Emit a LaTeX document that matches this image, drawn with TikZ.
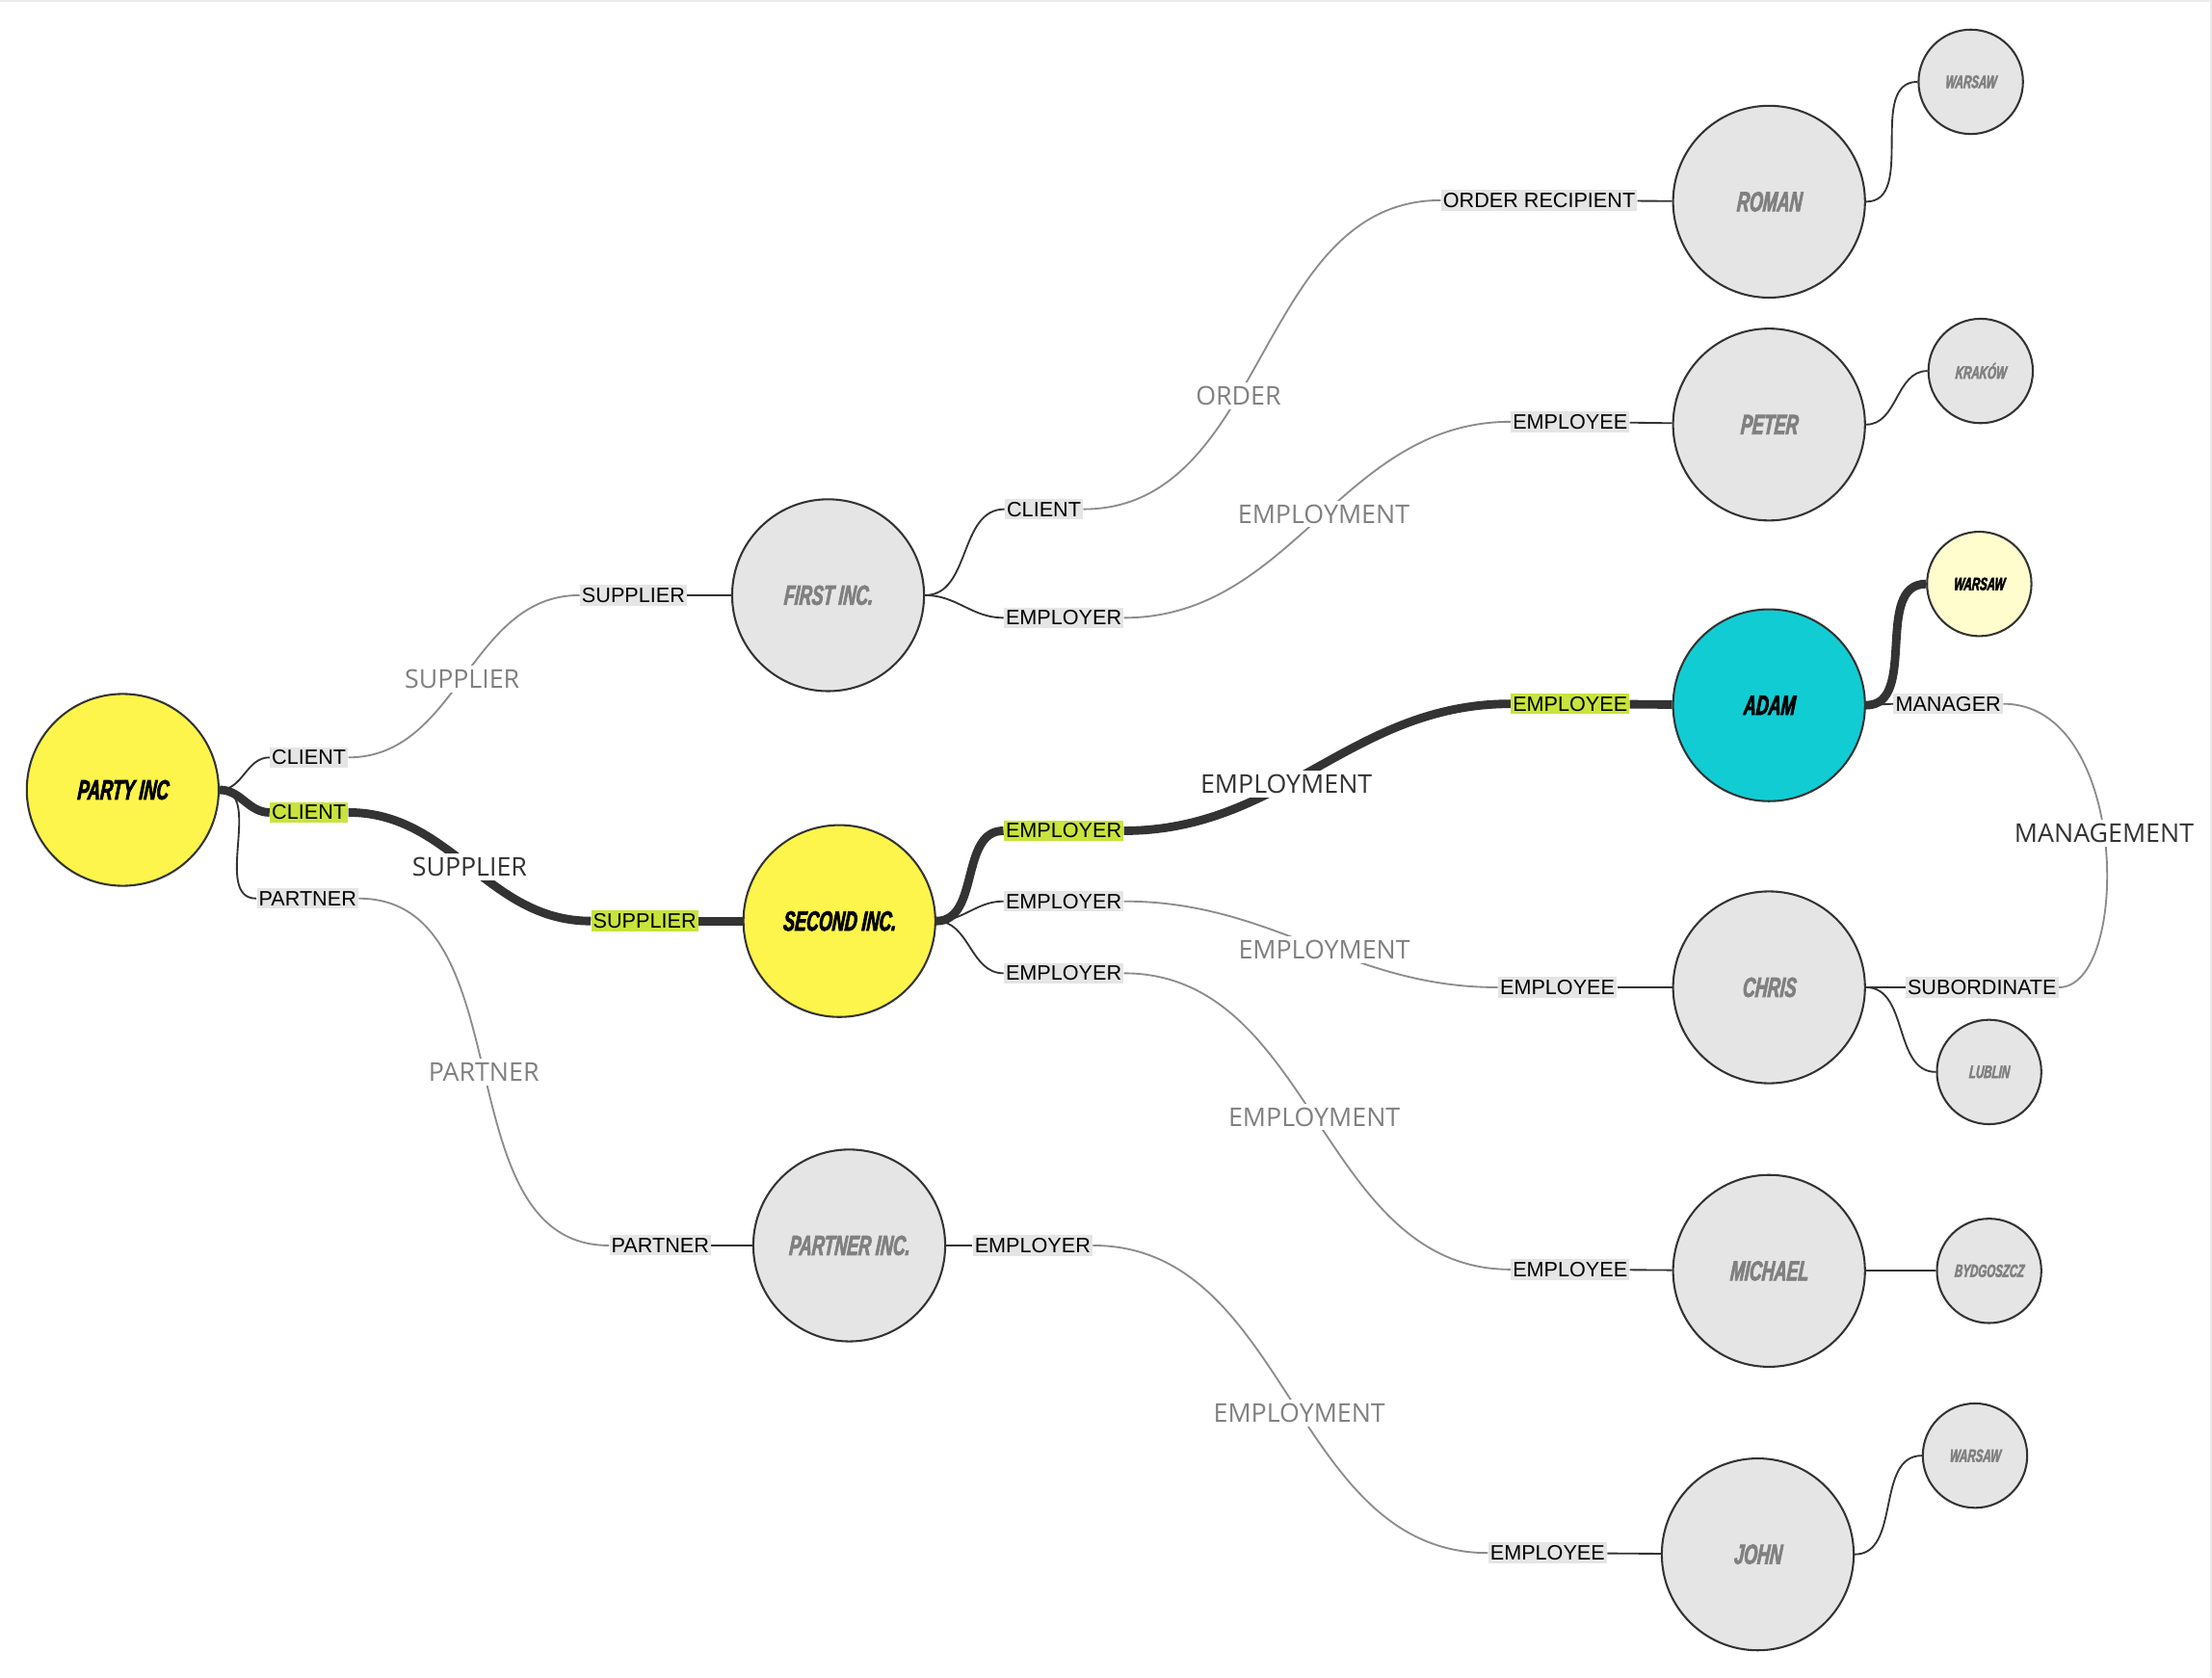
\documentclass[tikz,border=0pt]{standalone}
\usepackage{fontspec}
\setmainfont{Liberation Sans}
\newfontfamily\nombre[FakeStretch=0.62, FakeBold=2.5, FakeSlant=0.08]{Liberation Sans}
\newfontfamily\medio{Open Sans}
\usepackage{tikz}
\usetikzlibrary{shapes, positioning}
\definecolor{amarillo}{RGB}{253,245,75}
\definecolor{turquesa}{RGB}{18,204,212}
\definecolor{crema}{RGB}{255,252,206}
\definecolor{verde}{RGB}{200,228,60}
\definecolor{oscuro}{RGB}{51,51,51}
\tikzstyle{entidad} = [circle, draw=oscuro, line width=1pt, fill=gray!20, minimum size=3.4cm, inner sep=0pt, text=gray, font={\nombre\bfseries\itshape\fontsize{14}{14}\selectfont}]
\tikzstyle{ciudad} = [entidad, minimum size=1.85cm, font={\nombre\bfseries\itshape\fontsize{9}{9}\selectfont}]
\tikzstyle{etiqueta} = [fill=gray!20, text=black, inner xsep=1pt, inner ysep=1.5pt, font={\fontsize{10.5}{11}\selectfont}]
\tikzstyle{medio} = [fill=white, text=gray, inner sep=2pt, font={\medio\fontsize{13}{13}\selectfont}]
\tikzstyle{rama} = [draw=oscuro, line width=0.9pt]
\tikzstyle{enlace} = [draw=black!45, line width=0.9pt]
\tikzstyle{gruesa} = [draw=oscuro, line width=4.3pt]
\tikzstyle{curva} = [out=0, in=180]

\begin{document}
\begin{tikzpicture}[x=0.025cm, y=-0.025cm]
	\useasboundingbox (0,0) rectangle (1568,1189);
	\draw[gray!15, line width=1pt] (0,0.5) -- (1567.5,0.5) -- (1567.5,1189);

	% empresas
	\node[entidad, fill=amarillo, text=black] (party) at (87,560) {PARTY INC};
	\node[entidad] (first) at (587,422) {FIRST INC.};
	\node[entidad, fill=amarillo, text=black] (second) at (595,653) {SECOND INC.};
	\node[entidad] (partner) at (602,883) {PARTNER INC.};
	% personas
	\node[entidad] (roman) at (1254,143) {ROMAN};
	\node[entidad] (peter) at (1254,301) {PETER};
	\node[entidad, fill=turquesa, text=black] (adam) at (1254,500) {ADAM};
	\node[entidad] (chris) at (1254,700) {CHRIS};
	\node[entidad] (michael) at (1254,901) {MICHAEL};
	\node[entidad] (john) at (1246,1102) {JOHN};
	% ciudades
	\node[ciudad] (warsawA) at (1397,58) {WARSAW};
	\node[ciudad] (krakow) at (1404,263) {KRAKÓW};
	\node[ciudad, fill=crema, text=black] (warsawB) at (1403,414) {WARSAW};
	\node[ciudad] (lublin) at (1410,760) {LUBLIN};
	\node[ciudad] (bydgoszcz) at (1410,901) {BYDGOSZCZ};
	\node[ciudad] (warsawC) at (1400,1032) {WARSAW};

	% roles
	\node[etiqueta] (cl1) at (219,537) {CLIENT};
	\node[etiqueta, fill=verde] (cl2) at (219,576) {CLIENT};
	\node[etiqueta] (pa1) at (218,637) {PARTNER};
	\node[etiqueta] (su1) at (449,422) {SUPPLIER};
	\node[etiqueta, fill=verde] (su2) at (457,653) {SUPPLIER};
	\node[etiqueta] (pa2) at (468,883) {PARTNER};
	\node[etiqueta] (cl3) at (740,361) {CLIENT};
	\node[etiqueta] (er1) at (754,438) {EMPLOYER};
	\node[etiqueta, fill=verde] (er2) at (754,589) {EMPLOYER};
	\node[etiqueta] (er3) at (754,639) {EMPLOYER};
	\node[etiqueta] (er4) at (754,690) {EMPLOYER};
	\node[etiqueta] (er5) at (732,883) {EMPLOYER};
	\node[etiqueta] (orr) at (1091,142) {ORDER RECIPIENT};
	\node[etiqueta] (ee1) at (1113,299) {EMPLOYEE};
	\node[etiqueta, fill=verde] (ee2) at (1113,499) {EMPLOYEE};
	\node[etiqueta] (ee3) at (1104,700) {EMPLOYEE};
	\node[etiqueta] (ee4) at (1113,900) {EMPLOYEE};
	\node[etiqueta] (ee5) at (1097,1101) {EMPLOYEE};
	\node[etiqueta] (man) at (1381,499) {MANAGER};
	\node[etiqueta] (sub) at (1405,700) {SUBORDINATE};

	% relaciones
	\draw[rama] (party.east) to[curva] (cl1.west);
	\draw[rama] (party.east) to[curva] (pa1.west);
	\draw[enlace] (cl1.east) to[curva] node[medio, pos=0.49] {SUPPLIER} (su1.west);
	\draw[rama] (su1) -- (first);
	\draw[enlace] (pa1.east) to[curva] node[medio, pos=0.5] {PARTNER} (pa2.west);
	\draw[rama] (pa2) -- (partner);
	\draw[gruesa] (party.east) to[curva] (cl2.west);
	\draw[gruesa] (cl2.east) to[curva] node[medio, pos=0.5, text=oscuro] {SUPPLIER} (su2.west);
	\draw[gruesa] (su2) -- (second);

	\draw[rama] (first.east) to[curva] (cl3.west);
	\draw[rama] (first.east) to[curva] (er1.west);
	\draw[enlace] (cl3.east) to[curva] node[medio, pos=0.41] {ORDER} (orr.west);
	\draw[enlace] (er1.east) to[curva] node[medio, pos=0.52] {EMPLOYMENT} (ee1.west);
	\draw[rama] (orr) -- (roman);
	\draw[rama] (ee1) -- (peter);

	\draw[rama] (second.east) to[curva] (er3.west);
	\draw[rama] (second.east) to[curva] (er4.west);
	\draw[enlace] (er3.east) to[curva] node[medio, pos=0.54] {EMPLOYMENT} (ee3.west);
	\draw[enlace] (er4.east) to[curva] node[medio, pos=0.49] {EMPLOYMENT} (ee4.west);
	\draw[rama] (ee3) -- (chris);
	\draw[rama] (ee4) -- (michael);
	\draw[gruesa] (second.east) to[curva] (er2.west);
	\draw[gruesa] (er2.east) to[curva] node[medio, pos=0.41, text=oscuro] {EMPLOYMENT} (ee2.west);
	\draw[gruesa] (ee2) -- (adam);

	\draw[rama] (partner) -- (er5);
	\draw[enlace] (er5.east) to[curva] node[medio, pos=0.53] {EMPLOYMENT} (ee5.west);
	\draw[rama] (ee5) -- (john);

	\draw[rama] (adam.east) -- (man.west);
	\draw[rama] (chris.east) -- (sub.west);
	\draw[enlace] (man.east) .. controls +(90,0) and +(51,0) .. (sub.east) node[medio, pos=0.47, text=oscuro] {MANAGEMENT};

	% ciudades
	\draw[rama] (roman.east) to[curva] (warsawA.west);
	\draw[rama] (peter.east) to[curva] (krakow.west);
	\draw[gruesa] (adam.east) to[curva] (warsawB.west);
	\draw[rama] (chris.east) to[curva] (lublin.west);
	\draw[rama] (michael) -- (bydgoszcz);
	\draw[rama] (john.east) to[curva] (warsawC.west);
\end{tikzpicture}
\end{document}
